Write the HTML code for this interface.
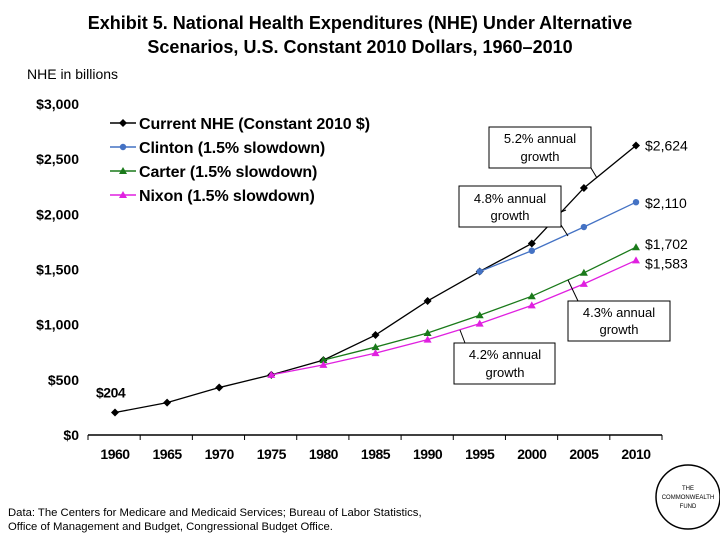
<!DOCTYPE html>
<html><head><meta charset="utf-8"><style>
body{margin:0;background:#fff;}
svg text{font-family:"Liberation Sans",Arial,sans-serif;}
</style></head><body>
<svg width="720" height="540" viewBox="0 0 720 540">
<text x="360" y="29" text-anchor="middle" font-size="18" font-weight="bold">Exhibit 5. National Health Expenditures (NHE) Under Alternative</text>
<text x="360" y="53" text-anchor="middle" font-size="18" font-weight="bold">Scenarios, U.S. Constant 2010 Dollars, 1960–2010</text>
<text x="27" y="79" font-size="14">NHE in billions</text>
<g id="axes"></g>
<g id="series"></g>
<g font-size="16" font-weight="bold" letter-spacing="-0.1">
 <g><line x1="110" y1="123" x2="136" y2="123" stroke="#000" stroke-width="1.5"/><path d="M123 119L127 123L123 127L119 123Z" fill="#000"/><text x="139" y="129">Current NHE (Constant 2010 $)</text></g>
 <g><line x1="110" y1="147" x2="136" y2="147" stroke="#4472c4" stroke-width="1.5"/><circle cx="123" cy="147" r="3.2" fill="#4472c4"/><text x="139" y="153">Clinton (1.5% slowdown)</text></g>
 <g><line x1="110" y1="171" x2="136" y2="171" stroke="#1a7a1a" stroke-width="1.5"/><path d="M123 167L127 174L119 174Z" fill="#1a7a1a"/><text x="139" y="177">Carter (1.5% slowdown)</text></g>
 <g><line x1="110" y1="195" x2="136" y2="195" stroke="#e020e0" stroke-width="1.5"/><path d="M123 191L127 198L119 198Z" fill="#e020e0"/><text x="139" y="201">Nixon (1.5% slowdown)</text></g>
</g>
<g font-size="13">
 <line x1="591" y1="168" x2="597" y2="178" stroke="#000"/>
 <rect x="489" y="127" width="102" height="41" fill="#fff" stroke="#000"/>
 <text x="540" y="143" text-anchor="middle">5.2% annual</text><text x="540" y="161" text-anchor="middle">growth</text>
 <line x1="561" y1="212" x2="566" y2="210" stroke="#000"/><line x1="561" y1="225" x2="568" y2="236" stroke="#000"/>
 <rect x="459" y="186" width="102" height="41" fill="#fff" stroke="#000"/>
 <text x="510" y="203" text-anchor="middle">4.8% annual</text><text x="510" y="220" text-anchor="middle">growth</text>
 <line x1="578" y1="301" x2="568" y2="280" stroke="#000"/>
 <rect x="568" y="301" width="102" height="40" fill="#fff" stroke="#000"/>
 <text x="619" y="317" text-anchor="middle">4.3% annual</text><text x="619" y="334" text-anchor="middle">growth</text>
 <line x1="465" y1="343" x2="460" y2="330" stroke="#000"/>
 <rect x="454" y="343" width="101" height="41" fill="#fff" stroke="#000"/>
 <text x="505" y="359" text-anchor="middle">4.2% annual</text><text x="505" y="377" text-anchor="middle">growth</text>
</g>
<g id="vlabels" font-size="14"></g>
<text x="8" y="516" font-size="11.3">Data: The Centers for Medicare and Medicaid Services; Bureau of Labor Statistics,</text>
<text x="8" y="530" font-size="11.3">Office of Management and Budget, Congressional Budget Office.</text>
<g>
<circle cx="688" cy="497" r="32" fill="#fff" stroke="#000" stroke-width="1.5"/>
<text x="688" y="490" font-size="6" text-anchor="middle">THE</text>
<text x="688" y="499" font-size="6" text-anchor="middle">COMMONWEALTH</text>
<text x="688" y="508" font-size="6" text-anchor="middle">FUND</text>
</g>
</svg>
<script>
const years = [1960,1965,1970,1975,1980,1985,1990,1995,2000,2005,2010];
const yTicks = [0,500,1000,1500,2000,2500,3000];
const yTickLabels = ["$0","$500","$1,000","$1,500","$2,000","$2,500","$3,000"];
const currentNHE = [204,293,430,545,679,906,1215,1482,1736,2239,2624];
const clinton = [null,null,null,null,null,null,null,1482,1670,1885,2110];
const carter = [null,null,null,null,679,797,924,1085,1258,1470,1702];
const nixon = [null,null,null,545,636,742,864,1009,1175,1370,1583];
const endLabels = ["$2,624","$2,110","$1,702","$1,583"];
const NS="http://www.w3.org/2000/svg";
function xs(i){return 115+i*(636-115)/(years.length-1);}
function ys(v){return 435-v*(435-104)/3000;}
function mk(tag,attrs,parent){const e=document.createElementNS(NS,tag);for(const k in attrs)e.setAttribute(k,attrs[k]);parent.appendChild(e);return e;}
const ax=document.getElementById('axes');
yTicks.forEach((t,i)=>{const tx=mk('text',{x:79,y:ys(t)+5,'text-anchor':'end','font-size':14,'font-weight':'bold'},ax);tx.textContent=yTickLabels[i];

});
const xl=mk('line',{x1:88,y1:435,x2:662,y2:435,stroke:'#000','stroke-width':1.5},ax);


for(let i=0;i<=years.length;i++){const x=88+i*(662-88)/years.length;mk('line',{x1:x,y1:435,x2:x,y2:440,stroke:'#000'},ax);}
years.forEach((y,i)=>{const t=mk('text',{x:xs(i),y:459,'text-anchor':'middle','font-size':14,'font-weight':'bold','letter-spacing':'-0.5'},ax);t.textContent=y;

});
const sg=document.getElementById('series');
function drawSeries(data,color,shape,name){
 const g=mk('g',{},sg);
 
 
 let pts=[];data.forEach((v,i)=>{if(v!=null)pts.push([xs(i),ys(v)]);});
 mk('polyline',{points:pts.map(p=>p.join(',')).join(' '),fill:'none',stroke:color,'stroke-width':1.3},g);
 pts.forEach(p=>{let m;
  if(shape==='d')m=mk('path',{d:`M${p[0]} ${p[1]-4}L${p[0]+4} ${p[1]}L${p[0]} ${p[1]+4}L${p[0]-4} ${p[1]}Z`,fill:color},g);
  else if(shape==='c')m=mk('circle',{cx:p[0],cy:p[1],r:3.2,fill:color},g);
  else m=mk('path',{d:`M${p[0]} ${p[1]-4}L${p[0]+4} ${p[1]+3}L${p[0]-4} ${p[1]+3}Z`,fill:color},g);
  
  });
}
drawSeries(currentNHE,'#000','d','series-current-nhe');
drawSeries(carter,'#1a7a1a','t','series-carter');
drawSeries(nixon,'#e020e0','t','series-nixon');
drawSeries(clinton,'#4472c4','c','series-clinton');
const vl=document.getElementById('vlabels');
const endVals=[currentNHE[10],clinton[10],carter[10],nixon[10]];
const offs=[0,1,-3,3];
endVals.forEach((v,i)=>{const t=mk('text',{x:645,y:ys(v)+5+offs[i]},vl);t.textContent=endLabels[i];

});
const s=mk('text',{x:96,y:ys(currentNHE[0])-15,'font-weight':'bold','letter-spacing':'-0.5'},vl);s.textContent='$'+currentNHE[0];


</script>
</body></html>
